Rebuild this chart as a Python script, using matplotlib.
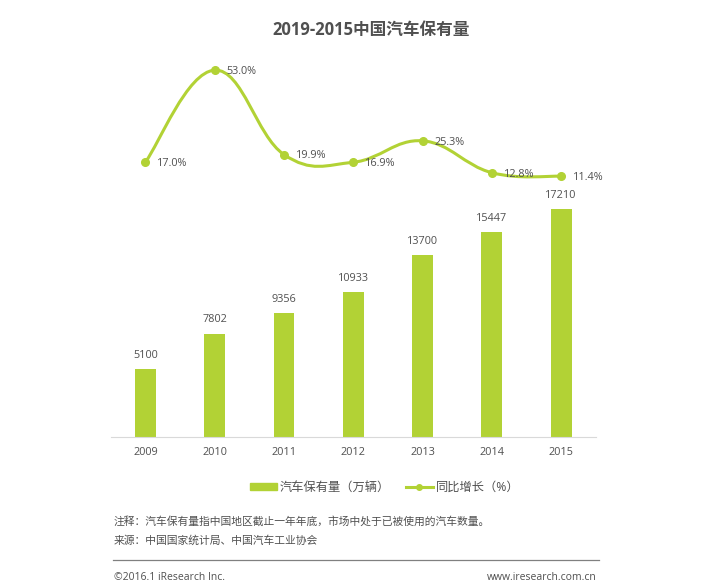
import matplotlib
matplotlib.use("Agg")
import matplotlib.pyplot as plt
import numpy as np
from matplotlib.lines import Line2D
from matplotlib.patches import PathPatch
from matplotlib.path import Path

plt.rcParams["font.family"] = ["Open Sans", "Noto Sans CJK SC", "DejaVu Sans"]

years = ["2009", "2010", "2011", "2012", "2013", "2014", "2015"]
cars = [5100, 7802, 9356, 10933, 13700, 15447, 17210]
growth = [17.0, 53.0, 19.9, 16.9, 25.3, 12.8, 11.4]

GREEN = "#b2d235"
GREY = "#505050"
W, H = 720, 588


def smooth_path(x, y, k=0.2):
    """Bezier through the points, Catmull-Rom style, like a smoothed office line."""
    x, y = np.asarray(x, float), np.asarray(y, float)
    verts = [(x[0], y[0])]
    codes = [Path.MOVETO]
    n = len(x)
    for i in range(n - 1):
        p0 = max(i - 1, 0)
        p3 = min(i + 2, n - 1)
        verts.append((x[i] + k * (x[i + 1] - x[p0]), y[i] + k * (y[i + 1] - y[p0])))
        verts.append((x[i + 1] - k * (x[p3] - x[i]), y[i + 1] - k * (y[p3] - y[i])))
        verts.append((x[i + 1], y[i + 1]))
        codes += [Path.CURVE4] * 3
    return Path(verts, codes)


fig = plt.figure(figsize=(W / 100, H / 100), dpi=100)
ax = fig.add_axes([110.8 / W, 1 - 437 / H, 485 / W, 387 / H])
pos = np.arange(len(years))

ax.bar(pos, cars, width=0.3, color=GREEN)
ax.set_xlim(-0.5, 6.5)
ax.set_ylim(0, 29208)
ax.set_xticks(pos)
ax.set_xticklabels(years, fontsize=7.8, color=GREY)
ax.tick_params(axis="x", length=0, pad=7)
ax.set_yticks([])
for s in ["top", "left", "right"]:
    ax.spines[s].set_visible(False)
ax.spines["bottom"].set_color("#d9d9d9")
for xi, v in zip(pos, cars):
    ax.annotate(str(v), (xi, v), xytext=(0, 6), textcoords="offset points",
                ha="center", va="bottom", fontsize=7.8, color=GREY)

# growth line on its own hidden scale
ax2 = ax.twinx()
ax2.set_ylim(-90.8, 60.9)
ax2.set_yticks([])
for s in ax2.spines.values():
    s.set_visible(False)
ax2.add_patch(PathPatch(smooth_path(pos, growth), fill=False, edgecolor=GREEN, lw=2.2))
ax2.plot(pos, growth, ls="none", marker="o", ms=5.5, color=GREEN)
for xi, v in zip(pos, growth):
    ax2.annotate(f"{v:.1f}%", (xi, v), xytext=(8.5, -1), textcoords="offset points",
                 ha="left", va="center", fontsize=7.8, color=GREY)

fig.text(371 / W, 1 - 30 / H, "2019-2015中国汽车保有量", ha="center", va="center",
         fontsize=12, fontweight="bold", color=GREY)

handles = [
    plt.Rectangle((0, 0), 1, 1, color=GREEN),
    Line2D([], [], color=GREEN, lw=2.2, marker="o", ms=4),
]
fig.legend(handles, ["汽车保有量（万辆）", "同比增长（%）"], loc="center",
           bbox_to_anchor=(384.5 / W, 1 - 487 / H), ncol=2, frameon=False,
           fontsize=8.8, labelcolor=GREY, handlelength=2.2, handleheight=0.5,
           handletextpad=0.25, columnspacing=1.3)

fig.text(114 / W, 1 - 522.5 / H, "注释：汽车保有量指中国地区截止一年年底，市场中处于已被使用的汽车数量。",
         ha="left", va="center", fontsize=7.75, color=GREY)
fig.text(114 / W, 1 - 541.5 / H, "来源：中国国家统计局、中国汽车工业协会",
         ha="left", va="center", fontsize=7.75, color=GREY)
fig.add_artist(Line2D([113 / W, 599 / W], [1 - 559.5 / H] * 2, color="#808080", lw=0.9))
fig.text(114 / W, 1 - 577.5 / H, "©2016.1 iResearch Inc.", ha="left", va="center",
         fontsize=7.5, color=GREY)
fig.text(597 / W, 1 - 577.5 / H, "www.iresearch.com.cn", ha="right", va="center",
         fontsize=7.5, color=GREY)

fig.savefig("out.png", dpi=100)
plt.close(fig)
